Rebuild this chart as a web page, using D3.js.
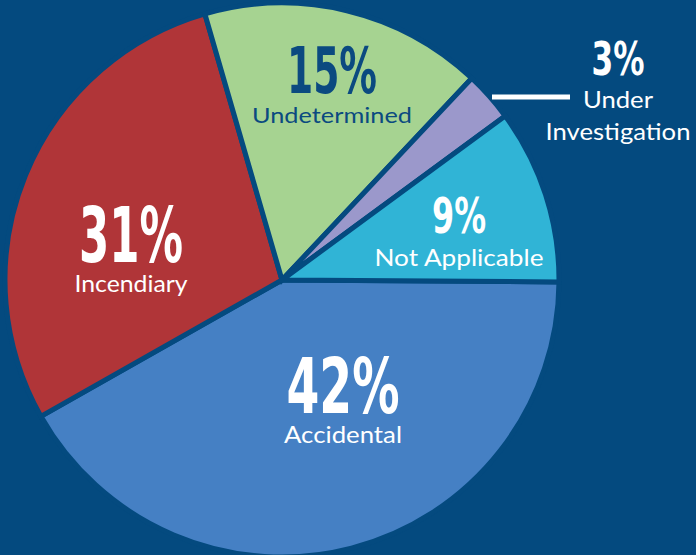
<!DOCTYPE html>
<html>
<head>
<meta charset="utf-8">
<script src="https://cdn.jsdelivr.net/npm/d3@7"></script>
<style>
  html, body { margin: 0; padding: 0; background: #044a7f; }
  svg { display: block; }
  .pct { font-family: "Liberation Sans Narrow", "DejaVu Sans Condensed", sans-serif; font-weight: bold; text-anchor: middle; }
  .cat { font-family: Lato, "Noto Sans", sans-serif; font-weight: 400; text-anchor: middle; }
</style>
</head>
<body>
<div id="chart"></div>
<script>
// categories, clockwise from 3 o'clock
var categories = ["Accidental", "Incendiary", "Undetermined", "Under Investigation", "Not Applicable"];
// printed labels
var pctLabels = ["42%", "31%", "15%", "3%", "9%"];
// slice share as drawn (%)
var shares = [41.7, 28.7, 16.5, 2.9, 10.2];
var colors = ["#4580c4", "#b03538", "#a6d391", "#9b98cb", "#30b4d6"];

var width = 696, height = 555;
var bg = "#044a7f";
var cx = 282, cy = 280, radius = 277;

var svg = d3.select("#chart").append("svg")
    .attr("width", width)
    .attr("height", height);

svg.append("rect").attr("width", width).attr("height", height).attr("fill", bg);

var start = 90.4 * Math.PI / 180;
var pie = d3.pie()
    .sort(null)
    .value(d => d)
    .startAngle(start)
    .endAngle(start + 2 * Math.PI);

var arc = d3.arc().innerRadius(0).outerRadius(radius);

var g = svg.append("g").attr("transform", `translate(${cx}, ${cy})`);

g.selectAll("path")
    .data(pie(shares))
    .enter()
    .append("path")
    .attr("d", arc)
    .attr("fill", (d, i) => colors[i])
    .attr("stroke", bg)
    .attr("stroke-width", 5)
    .attr("stroke-linejoin", "miter");

// label layout: centre x, pct baseline, pct size, pct width, name baselines, name size, name width
var layout = [
    {x: 343, py: 413, ps: 77, pw: 113, ny: [443], ns: 23, nw: [118], pc: "#fff", nc: "#fff"},
    {x: 131, py: 262, ps: 77, pw: 104, ny: [292], ns: 23, nw: [113], pc: "#fff", nc: "#fff"},
    {x: 332, py: 93, ps: 64, pw: 90, ny: [123], ns: 22, nw: [160], pc: "#0b4a80", nc: "#0b4a80"},
    {x: 618, py: 75, ps: 46, pw: 53, ny: [108, 140], ns: 23, nw: [70, 145], pc: "#fff", nc: "#fff"},
    {x: 459, py: 233, ps: 49, pw: 54, ny: [266], ns: 23, nw: [169], pc: "#fff", nc: "#fff"}
];
var names = [["Accidental"], ["Incendiary"], ["Undetermined"], ["Under", "Investigation"], ["Not Applicable"]];

layout.forEach(function(L, i) {
    svg.append("text")
        .attr("class", "pct")
        .attr("x", L.x)
        .attr("y", L.py)
        .attr("font-size", L.ps)
        .attr("fill", L.pc)
        .attr("textLength", L.pw)
        .attr("lengthAdjust", "spacingAndGlyphs")
        .text(pctLabels[i]);
    names[i].forEach(function(n, j) {
        svg.append("text")
            .attr("class", "cat")
            .attr("x", L.x)
            .attr("y", L.ny[j])
            .attr("font-size", L.ns)
            .attr("fill", L.nc)
            .attr("textLength", L.nw[j])
            .attr("lengthAdjust", "spacingAndGlyphs")
            .text(n);
    });
});

// leader line for the small slice
svg.append("line")
    .attr("x1", 492).attr("x2", 570)
    .attr("y1", 97).attr("y2", 97)
    .attr("stroke", "#fff")
    .attr("stroke-width", 5);
</script>
</body>
</html>
